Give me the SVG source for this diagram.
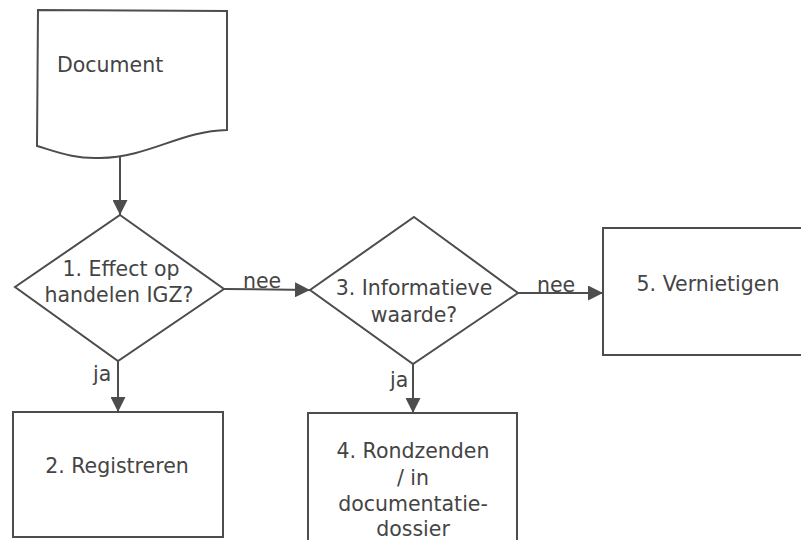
<svg xmlns="http://www.w3.org/2000/svg" width="801" height="540" viewBox="0 0 801 540">
  <style>
    .shape { fill: none; stroke: #4d4d4d; stroke-width: 2; stroke-linejoin: miter; }
    .edge { fill: none; stroke: #4d4d4d; stroke-width: 2; }
    .lbl { font-family: "DejaVu Sans", Verdana, sans-serif; font-size: 20.5px; fill: #444; }
    .mid { text-anchor: middle; }
  </style>
  <defs>
    <marker id="arrow" viewBox="0 0 10 10" refX="10" refY="5" markerWidth="7.5" markerHeight="7.5" markerUnits="strokeWidth" orient="auto">
      <path d="M0,0 L10,5 L0,10 Z" fill="#4d4d4d"/>
    </marker>
  </defs>

  <rect width="801" height="540" fill="#ffffff"/>

  <!-- start document -->
  <g id="document">
    <path class="shape" d="M37,146 L38,10 L227,11 L227,130 C180,131 150,157 100,158 C75,159 60,153 37,146 Z"/>
    <text class="lbl" x="57" y="72">Document</text>
  </g>

  <!-- decision 1 -->
  <g id="decision1">
    <path class="shape" d="M120,215 L224,289 L118,361 L15,287 Z"/>
    <text class="lbl mid" x="121" y="276">1. Effect op</text>
    <text class="lbl mid" x="119" y="302">handelen IGZ?</text>
  </g>

  <!-- decision 3 -->
  <g id="decision3">
    <path class="shape" d="M414,217 L518,293 L413,364 L310,290 Z"/>
    <text class="lbl mid" x="414" y="295">3. Informatieve</text>
    <text class="lbl mid" x="414" y="322">waarde?</text>
  </g>

  <!-- step 2 -->
  <g id="step2">
    <rect class="shape" x="13" y="412" width="210" height="125"/>
    <text class="lbl mid" x="117" y="473">2. Registreren</text>
  </g>

  <!-- step 4 (runs off the bottom edge) -->
  <g id="step4">
    <path class="shape" d="M308,545 L308,413 L517,413 L517,545"/>
    <text class="lbl mid" x="413" y="458">4. Rondzenden</text>
    <text class="lbl mid" x="413" y="485">/ in</text>
    <text class="lbl mid" x="413" y="511">documentatie-</text>
    <text class="lbl mid" x="413" y="536">dossier</text>
  </g>

  <!-- step 5 (runs off the right edge) -->
  <g id="step5">
    <path class="shape" d="M805,228 L603,228 L603,355 L805,355"/>
    <text class="lbl mid" x="708" y="291">5. Vernietigen</text>
  </g>

  <!-- connectors -->
  <g id="connectors">
    <path class="edge" d="M120,157 L120,215" marker-end="url(#arrow)"/>
    <path class="edge" d="M224,289 L310,290" marker-end="url(#arrow)"/>
    <path class="edge" d="M518,293 L603,293" marker-end="url(#arrow)"/>
    <path class="edge" d="M118,361 L118,412" marker-end="url(#arrow)"/>
    <path class="edge" d="M413,364 L413,413" marker-end="url(#arrow)"/>
    <text class="lbl" x="243" y="288">nee</text>
    <text class="lbl" x="537" y="292">nee</text>
    <text class="lbl" x="93" y="381">ja</text>
    <text class="lbl" x="390" y="387">ja</text>
  </g>
</svg>
